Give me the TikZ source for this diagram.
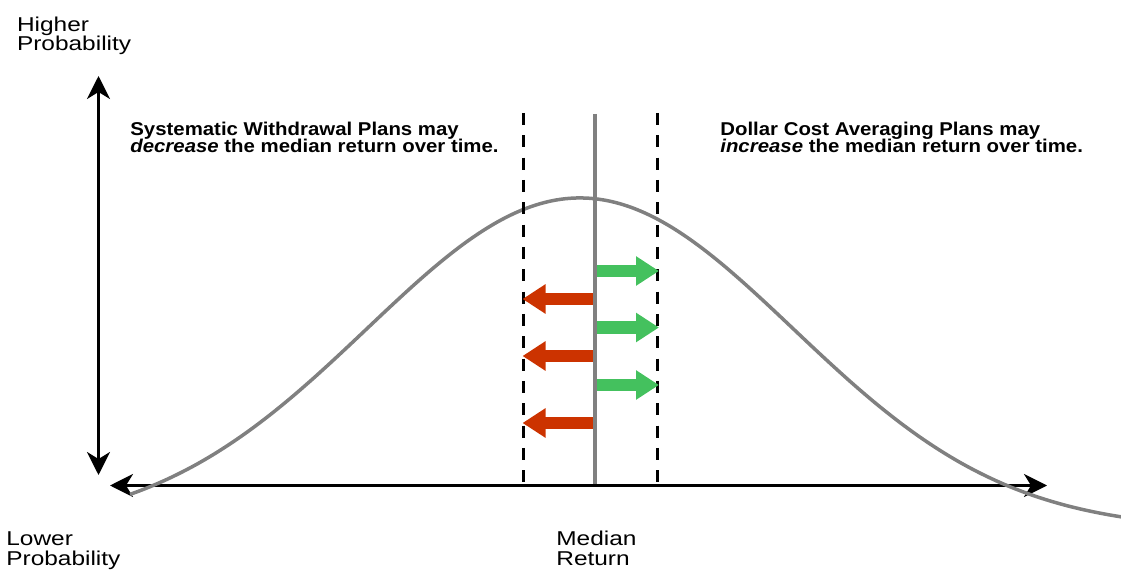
\documentclass[tikz,border=0pt]{standalone}
\usepackage{fontspec}
\usetikzlibrary{arrows.meta}
\newfontfamily\axisfont[FakeStretch=1.22]{Liberation Sans}
\newfontfamily\notefont[FakeStretch=1.1]{Liberation Sans}
\definecolor{curvegray}{HTML}{808080}
\definecolor{dcagreen}{HTML}{44C15E}
\definecolor{swpred}{HTML}{CC3300}

\begin{document}
\begin{tikzpicture}[
  x=0.02cm, y=-0.02cm,
  axislabel/.style={anchor=base west, inner sep=0pt, align=left,
                    font=\axisfont\fontsize{11.4}{11.2}\selectfont},
  note/.style={anchor=base west, inner sep=0pt, align=left,
               font=\notefont\bfseries\fontsize{10.55}{10.2}\selectfont},
  axis/.style={line width=0.06cm,
               {Stealth[length=0.46cm,width=0.46cm,inset=0.14cm]}-{Stealth[length=0.46cm,width=0.46cm,inset=0.14cm]}},
  bound/.style={line width=0.06cm, dash pattern=on 0.24cm off 0.2067cm},
  median/.style={line width=0.065cm, curvegray},
  medshift/.style={line width=0.25cm, -{Triangle[length=0.46cm,width=0.56cm]}}
]
\useasboundingbox (0,0) rectangle (1121,577);

%% Axes
\coordinate (ytop) at (98.5,76);
\coordinate (ybot) at (98.5,475);
\coordinate (xleft) at (110,485.5);
\coordinate (xright) at (1047,485.5);
\draw[axis] (ytop) -- (ybot);
\draw[axis] (xleft) -- (xright);

%% Return distribution
\draw[curvegray, line width=0.07cm] plot[domain=130:1125, samples=120, smooth]
  (\x, {530-332*exp(-0.5*((\x-580)/213)^2)});

%% Range around the median
\coordinate (lowtop) at (523.5,113);
\coordinate (lowbot) at (523.5,482);
\coordinate (hightop) at (657.5,113);
\coordinate (highbot) at (657.5,482);
\draw[bound] (lowtop) -- (lowbot);
\draw[bound] (hightop) -- (highbot);

%% Shifts of the median
\foreach \y [count=\i] in {271,327.5,385} {
  \coordinate (up\i) at (596,\y);
  \coordinate (upend\i) at (659,\y);
  \draw[medshift, dcagreen] (up\i) -- (upend\i);
}
\foreach \y [count=\i] in {299,356,423} {
  \coordinate (down\i) at (595,\y);
  \coordinate (downend\i) at (522.5,\y);
  \draw[medshift, swpred] (down\i) -- (downend\i);
}

\coordinate (medtop) at (595,114);
\coordinate (medbot) at (595,484);
\draw[median] (medtop) -- (medbot);

%% Labels (anchored on the last baseline)
\node[axislabel] (higher) at (16.7,50.7) {Higher\\Probability};
\node[axislabel] (lower) at (6,565) {Lower\\Probability};
\node[axislabel] (medret) at (556,565) {Median\\Return};

\node[note] (swp) at (130,153)
  {Systematic Withdrawal Plans may\\\textit{decrease} the median return over time.};
\node[note] (dca) at (720,153)
  {Dollar Cost Averaging Plans may\\\textit{increase} the median return over time.};

\end{tikzpicture}
\end{document}
